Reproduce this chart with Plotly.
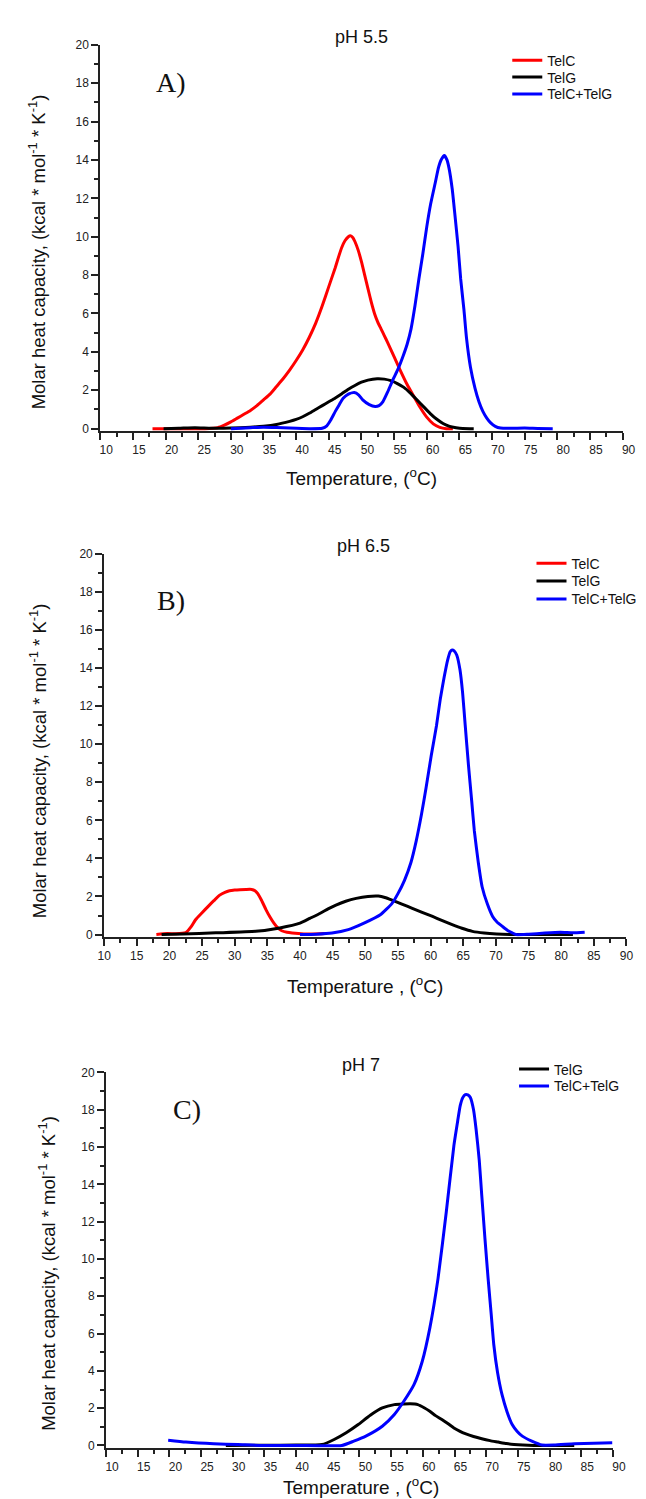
import plotly.graph_objects as go

W, H = 646, 1499

# ---------------- Panel A (pH 5.5) ----------------
a_telc_t = [18, 22, 26, 28, 29, 30, 31, 32, 33, 34, 35, 36, 37, 38, 39, 40, 41, 42, 43, 44, 45, 46, 46.5, 47, 47.5,
            48, 48.3, 48.7, 49, 49.5, 50, 50.5, 51, 51.5, 52, 52.5, 53, 53.5, 54, 55, 56, 57, 58, 59, 60, 61, 62, 63,
            64]
a_telc_v = [0, 0, 0, 0.05, 0.18, 0.35, 0.55, 0.75, 0.95, 1.2, 1.5, 1.8, 2.2, 2.6, 3.05, 3.55, 4.1, 4.75, 5.5, 6.4, 7.4,
            8.4, 8.95, 9.45, 9.8, 10.0, 10.05, 9.95, 9.75, 9.3, 8.7, 8.0, 7.3, 6.6, 6.0, 5.55, 5.2, 4.85, 4.5, 3.75,
            3.0, 2.3, 1.7, 1.1, 0.6, 0.25, 0.07, 0, 0]
a_telg_t = [19.7, 22, 24.5, 27, 30, 33, 35, 37, 39, 40, 41, 42, 43, 44, 45, 46, 47, 48, 49, 50, 51, 52.4, 53.5, 54.5,
            55.5, 56.5, 57.5, 58.5, 59.5, 60.5, 61.5, 62.5, 63.5, 64.5, 65.5, 67.2]
a_telg_v = [0, 0.02, 0.05, 0.02, 0.03, 0.08, 0.13, 0.22, 0.38, 0.48, 0.62, 0.8, 1.0, 1.2, 1.4, 1.6, 1.82, 2.05, 2.25,
            2.42, 2.53, 2.6, 2.58, 2.5, 2.35, 2.15, 1.85, 1.5, 1.15, 0.8, 0.5, 0.27, 0.12, 0.05, 0.01, 0]
a_mix_t = [30, 33, 35, 37, 39, 42, 44, 44.7, 45.3, 46, 46.6, 47.2, 48, 48.9, 49.6, 50.2, 51.2, 52.1, 52.7, 53.3, 54,
           54.8, 55.6, 56.4, 57, 57.6, 58.2, 58.8, 59.4, 60, 60.6, 61.3, 61.8, 62.2, 62.7, 63.1, 63.4, 63.9, 64.3, 64.8,
           65.2, 65.7, 66.1, 66.7, 67.4, 68, 68.6, 69.2, 69.8, 70.5, 71.3, 73, 75, 77, 79.3]
a_mix_v = [0, 0.05, 0.08, 0.06, 0.03, 0.0, 0.02, 0.15, 0.45, 0.9, 1.25, 1.58, 1.8, 1.88, 1.75, 1.5, 1.25, 1.15, 1.2,
           1.41, 1.9, 2.53, 3.1, 3.8, 4.4, 5.2, 6.4, 7.8, 9.1, 10.5, 11.7, 12.8, 13.6, 14.0, 14.23, 14.0, 13.6, 12.5,
           11.2, 9.5, 7.8, 6.2, 4.7, 3.2, 2.1, 1.4, 0.9, 0.55, 0.3, 0.12, 0.03, 0.02, 0.03, 0.01, 0]

# ---------------- Panel B (pH 6.5) ----------------
b_telc_t = [18, 19.7, 21, 22.5, 23.3, 24, 25, 25.9, 26.8, 27.7, 28.5, 29.2, 30, 30.8, 31.7, 32.6, 33.1, 33.5, 34.1,
            34.8, 35.4, 36, 36.6, 37.2, 38, 38.8, 40.6, 42, 43.8]
b_telc_v = [0, 0.05, 0.04, 0.1, 0.4, 0.78, 1.15, 1.47, 1.78, 2.07, 2.22, 2.3, 2.34, 2.36, 2.37, 2.37, 2.3, 2.16, 1.8,
            1.3, 0.92, 0.6, 0.35, 0.2, 0.12, 0.08, 0.03, 0.03, 0.05]
b_telg_t = [18.8, 22, 27.1, 33.2, 36.9, 40, 41.5, 43.1, 44.3, 45.5, 47, 48.6, 50.4, 52, 53, 54.1, 55.6, 57.2, 58.7,
            60.3, 61.8, 63.3, 64.8, 66.4, 68.2, 70.1, 73.2, 77, 81.8]
b_telg_v = [0, 0.03, 0.09, 0.17, 0.35, 0.6, 0.85, 1.12, 1.35, 1.55, 1.75, 1.9, 2.0, 2.02, 1.95, 1.81, 1.6, 1.38, 1.17,
            0.95, 0.73, 0.52, 0.33, 0.17, 0.08, 0.03, 0, 0, 0]
b_mix_t = [40, 42.5, 44.9, 47.4, 49.8, 52.3, 54.1, 55, 56, 57, 57.8, 58.6, 59.3, 60.1, 60.9, 61.5, 62.1, 62.6, 63,
           63.3, 63.6, 64, 64.5, 64.9, 65.3, 65.8, 66.3, 66.7, 67.3, 67.9, 68.7, 69.5, 70.2, 71, 71.8, 72.5, 73.1, 75,
           77.5, 79.9, 81.8, 83.6]
b_mix_v = [0, 0.02, 0.08, 0.26, 0.6, 1.04, 1.64, 2.15, 2.85, 3.8, 4.92, 6.3, 7.7, 9.4, 10.97, 12.4, 13.56, 14.4, 14.85,
           14.94, 14.9, 14.68, 13.9, 12.7, 11.0, 8.9, 7.0, 5.44, 3.8, 2.5, 1.6, 0.95, 0.65, 0.43, 0.22, 0.09, 0.0, 0.02,
           0.08, 0.12, 0.09, 0.12]

# ---------------- Panel C (pH 7) ----------------
c_telg_t = [28.9, 35, 40, 44.1, 46, 47.9, 49.8, 51.7, 53.6, 55.5, 57, 58, 59.2, 60.2, 61.1, 62, 63, 64, 64.9, 65.8,
            66.8, 68, 69.3, 70.6, 71.9, 73.2, 74.4, 77.5, 83.9]
c_telg_v = [0, 0.01, 0.02, 0.05, 0.32, 0.68, 1.12, 1.62, 2.01, 2.19, 2.22, 2.23, 2.19, 2.02, 1.83, 1.6, 1.39, 1.16,
            0.94, 0.77, 0.62, 0.48, 0.36, 0.26, 0.18, 0.1, 0.05, 0, 0]
c_mix_t = [19.8, 22.6, 27, 30.8, 34.6, 40, 47.2, 49.1, 51, 53.6, 55.5, 57, 58.6, 59.9, 61.1, 62.4, 63.7, 64.9, 65.5,
           65.9, 66.3, 66.7, 67.1, 67.5, 68, 68.4, 68.9, 69.3, 69.8, 70.3, 70.8, 71.2, 71.8, 72.5, 73.3, 74.1, 74.9,
           75.7, 77.2, 78.8, 80.7, 83.9, 87, 89.9]
c_mix_v = [0.28, 0.18, 0.09, 0.05, 0.0, 0.0, 0.0, 0.23, 0.5, 1.03, 1.66, 2.37, 3.26, 4.5, 6.29, 8.96, 12.52, 16.08,
           17.4, 18.22, 18.65, 18.81, 18.8, 18.66, 18.0, 16.97, 15.3, 13.41, 11.1, 8.96, 7.0, 5.4, 3.9, 2.72, 1.8,
           1.12, 0.75, 0.5, 0.23, 0.02, 0.02, 0.09, 0.12, 0.14]

RED, BLACK, BLUE = "#ff0000", "#000000", "#0000ff"
FONT = "Liberation Sans, Arial, sans-serif"
SERIF = "Liberation Serif, Times New Roman, serif"

def fx(px):
    return px / W

def fy(py):
    return 1 - py / H

# panel geometry in pixels: x-left(10), x-right(90), y-top(20), y-bottom(0)
panels = [
    dict(x0=88, x1=627, y20=30, y0=417, shift=6),
    dict(x0=92, x1=631, y20=543, y0=927, shift=0),
    dict(x0=94, x1=617, y20=1066, y0=1442, shift=6),
]

# (panel, name, x, y, colour, legend line start px, legend row centre px)
series = [
    (1, "TelC", a_telc_t, a_telc_v, RED, 513, 46),
    (1, "TelG", a_telg_t, a_telg_v, BLACK, 513, 63),
    (1, "TelC+TelG", a_mix_t, a_mix_v, BLUE, 513, 80),
    (2, "TelC", b_telc_t, b_telc_v, RED, 538, 553),
    (2, "TelG", b_telg_t, b_telg_v, BLACK, 538, 571),
    (2, "TelC+TelG", b_mix_t, b_mix_v, BLUE, 538, 589),
    (3, "TelG", c_telg_t, c_telg_v, BLACK, 520, 1063),
    (3, "TelC+TelG", c_mix_t, c_mix_v, BLUE, 520, 1080),
]

fig = go.Figure()
layout = {}
for i, (k, name, t, v, col, lx, ly) in enumerate(series):
    sfx = "" if k == 1 else str(k)
    leg = "legend" if i == 0 else "legend%d" % (i + 1)
    fig.add_trace(go.Scatter(
        x=t, y=v, name=name, mode="lines",
        line=dict(color=col, width=3, shape="spline", smoothing=0.5),
        xaxis="x" + sfx, yaxis="y" + sfx, legend=leg,
    ))
    layout[leg] = dict(x=fx(lx - 5), y=fy(ly), xanchor="left", yanchor="middle", xref="paper", yref="paper",
                       bgcolor="rgba(0,0,0,0)", borderwidth=0,
                       font=dict(family=FONT, size=14, color="#111"), itemwidth=30)

YMIN = -0.12
for i, p in enumerate(panels):
    sfx = "" if i == 0 else str(i + 1)
    ypix_per = (p["y0"] - p["y20"]) / 20.0
    ybot = p["y0"] + (-YMIN) * ypix_per
    layout["xaxis" + sfx] = dict(
        domain=[fx(p["x0"]), fx(p["x1"])], range=[10, 90], anchor="y" + sfx,
        tickmode="linear", tick0=10, dtick=5, ticks="outside", ticklen=7, tickwidth=2,
        tickcolor="#222", showline=True, linecolor="#222", linewidth=2,
        showgrid=False, zeroline=False, ticklabelshift=p["shift"],
        tickfont=dict(family=FONT, size=12, color="#222"),
        minor=dict(dtick=2.5, tick0=10, ticks="outside", ticklen=4, tickwidth=2, tickcolor="#222", showgrid=False),
    )
    layout["yaxis" + sfx] = dict(
        domain=[fy(ybot), fy(p["y20"])], range=[YMIN, 20], anchor="x" + sfx,
        tickmode="linear", tick0=0, dtick=2, ticks="outside", ticklen=7, tickwidth=2,
        tickcolor="#222", showline=True, linecolor="#222", linewidth=2,
        showgrid=False, zeroline=False,
        tickfont=dict(family=FONT, size=12, color="#222"),
        minor=dict(dtick=1, tick0=0, ticks="outside", ticklen=4, tickwidth=2, tickcolor="#222", showgrid=False),
    )

ytitle = "Molar heat capacity, (kcal * mol<sup>-1</sup> * K<sup>-1</sup>)"
annotations = []
def ann(text, xpx, ypx, size, family=FONT, angle=0):
    annotations.append(dict(text=text, x=fx(xpx), y=fy(ypx), xref="paper", yref="paper", showarrow=False,
                            xanchor="center", yanchor="middle", textangle=angle,
                            font=dict(family=family, size=size, color="#111")))

ann("pH 5.5", 358, 22, 18)
ann("pH 6.5", 360, 535, 18)
ann("pH 7", 357, 1058, 18)
ann("A)", 161, 68, 28, family=SERIF)
ann("B)", 161, 590, 28, family=SERIF)
ann("C)", 178, 1103, 28, family=SERIF)
ann("Temperature, (<sup>o</sup>C)", 358, 466, 19)
ann("Temperature , (<sup>o</sup>C)", 361, 978, 19)
ann("Temperature , (<sup>o</sup>C)", 357, 1483, 19)
ann(ytitle, 23, 239, 18.5, angle=-90)
ann(ytitle, 24, 752, 18.5, angle=-90)
ann(ytitle, 33, 1268, 18.5, angle=-90)

fig.update_layout(
    width=W, height=H, margin=dict(l=0, r=0, t=0, b=0),
    paper_bgcolor="white", plot_bgcolor="white",
    showlegend=True, annotations=annotations, **layout,
)

fig.write_html("out.html")
